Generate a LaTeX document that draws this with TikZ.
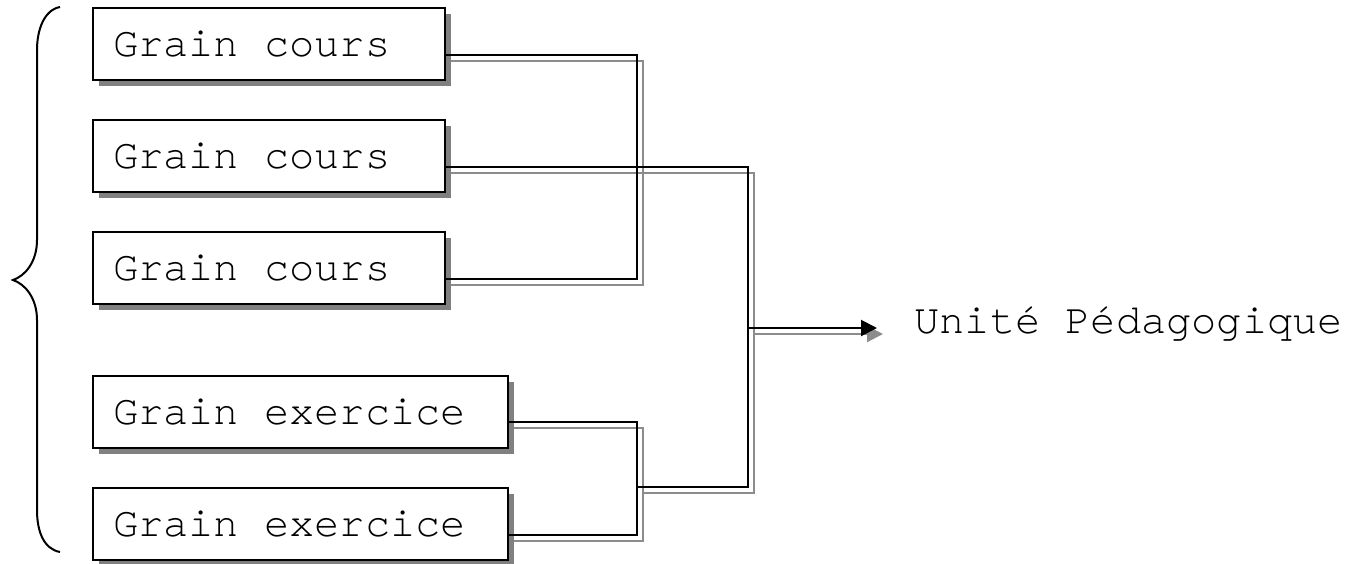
\documentclass[tikz,border=0pt]{standalone}
\usepackage{fontspec}
\setmonofont{texgyrecursor-regular.otf}
\usetikzlibrary{shadows,arrows.meta}

\begin{document}
\begin{tikzpicture}[x=0.5pt, y=-0.5pt]
    \tikzstyle{grain} = [rectangle, draw, line width=1pt, fill=white, outer sep=0pt, inner xsep=10pt, inner ysep=0pt, minimum height=36pt, anchor=west, font=\ttfamily\fontsize{21}{25}\selectfont, drop shadow={shadow xshift=3pt, shadow yshift=-3pt, fill=gray, opacity=1}]
    \tikzstyle{wire} = [line width=1pt]
    \tikzstyle{brace} = [line width=1pt]

    \useasboundingbox (0,0) rectangle (1356,563);

    % Grains
    \foreach \y/\n in {43.7/c1, 155.8/c2, 268.3/c3} {
        \node[grain] (\n) at (93,\y) {\makebox[156pt][l]{Grain cours}};
    }
    \node[grain] (e1) at (93,412.3) {\makebox[187.5pt][l]{Grain exercice}};
    \node[grain] (e2) at (93,524.3) {\makebox[187.5pt][l]{Grain exercice}};

    % Result
    \node[anchor=base west, inner sep=0pt, font=\ttfamily\fontsize{21}{25}\selectfont] (up) at (914,333) {Unité Pédagogique};

    % Junctions
    \coordinate (jc) at (637,167);
    \coordinate (je) at (637,487);
    \coordinate (jm) at (748,328);
    \coordinate (tip) at (877,328);

    % Connectors, shadow first
    \foreach \col/\d in {gray!90/3pt, black/0pt} {
        \begin{scope}[color=\col, transform canvas={shift={(\d,-\d)}}]
            \draw[wire] ([yshift=-5.5pt]c1.east) -| (jc) |- ([yshift=-5.5pt]c3.east);
            \draw[wire] ([yshift=-5.5pt]c2.east) -| (jm);
            \draw[wire] ([yshift=-5pt]e1.east) -| (je) |- ([yshift=-5.5pt]e2.east);
            \draw[wire] (je) -| (jm);
            \draw[wire, -{Triangle[length=8pt, width=8pt]}] (jm) -- (tip);
        \end{scope}
    }

    % Brace
    \draw[brace] (60,7) .. controls (44,10) and (37,30) .. (37,50) -- (37,240)
        .. controls (37,262) and (25,276) .. (13,280)
        .. controls (25,284) and (37,298) .. (37,320) -- (37,510)
        .. controls (37,532) and (44,549) .. (60,552);
\end{tikzpicture}
\end{document}
